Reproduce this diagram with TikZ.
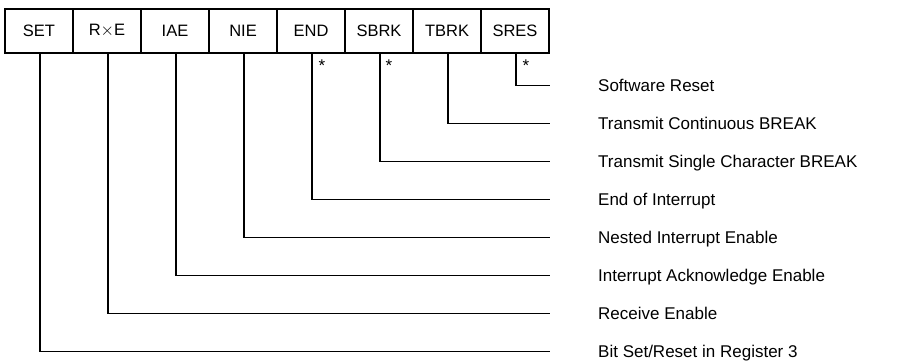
\documentclass[tikz,border=0pt]{standalone}
\usepackage{fontspec}
\setmainfont{Liberation Sans}
\begin{document}
\begin{tikzpicture}[x=1pt,y=1pt,
  cell/.style={draw,line width=1.2pt,minimum width=68pt,minimum height=44pt,inner sep=0pt,font=\fontsize{16.5}{18}\selectfont},
  lab/.style={anchor=west,inner sep=0pt,text height=12.2pt,text depth=0pt,font=\fontsize{17}{19}\selectfont},
  conn/.style={line width=1.2pt},
  star/.style={inner sep=0pt,font=\fontsize{17}{17}\selectfont}]
\useasboundingbox (0,0) rectangle (897,362);
\foreach \n/\t [count=\i] in {c1/SET,c2/R$\times$E,c3/IAE,c4/NIE,c5/END,c6/SBRK,c7/TBRK,c8/SRES}
  \node[cell] (\n) at ({5+68*(\i-0.5)},{362-31}) {\t};
\foreach \n/\t [count=\k from 0] in {l8/Software Reset,l7/Transmit Continuous BREAK,l6/Transmit Single Character BREAK,l5/End of Interrupt,l4/Nested Interrupt Enable,l3/Interrupt Acknowledge Enable,l2/Receive Enable,l1/Bit Set\slash Reset in Register 3}
  \node[lab] (\n) at (598,{362-85.5-38*\k}) {\t};
\foreach \i in {1,...,8}
  \draw[conn] ([xshift=1pt]c\i.south) |- ([xshift=-48pt]l\i.west);
\node[star] (s5) at ([xshift=11pt,yshift=-12pt]c5.south) {*};
\node[star] (s6) at ([xshift=10pt,yshift=-12pt]c6.south) {*};
\node[star] (s8) at ([xshift=11pt,yshift=-12pt]c8.south) {*};
\end{tikzpicture}
\end{document}
